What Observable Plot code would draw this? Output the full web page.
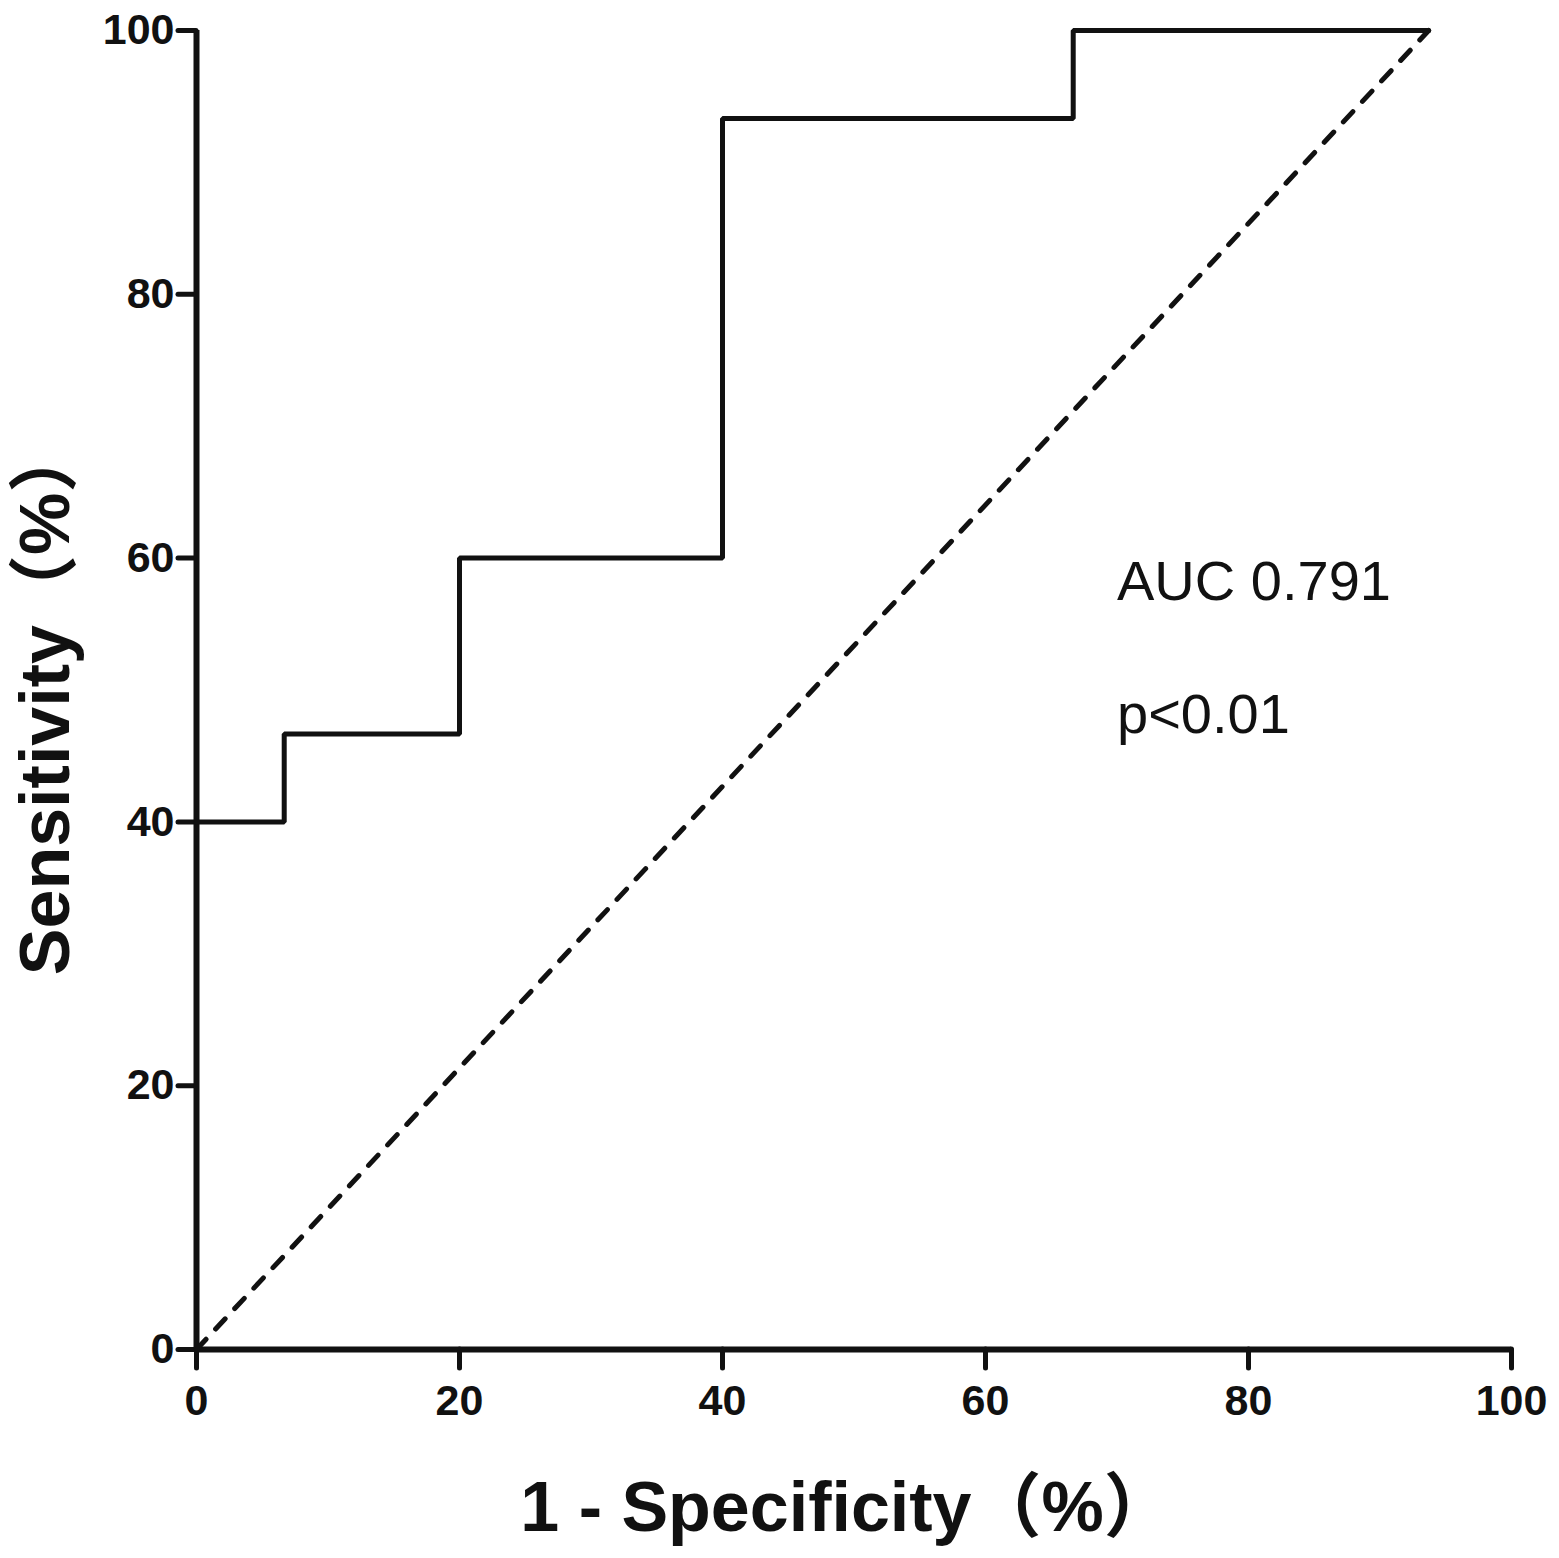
<!DOCTYPE html>
<html>
<head>
<meta charset="utf-8">
<script src="https://cdn.jsdelivr.net/npm/d3@7"></script>
<script src="https://cdn.jsdelivr.net/npm/@observablehq/plot@0.6"></script>
<style>
  html, body { margin: 0; padding: 0; background: #fff; }
  #chart svg { display: block; }
</style>
</head>
<body>
<div id="chart"></div>
<script>
// ROC curve vertices (1 - specificity %, sensitivity %), drawn as step-after
const rocFpr = [0, 6.67, 20, 40, 66.67, 93.7];
const rocTpr = [40, 46.67, 60, 93.33, 100, 100];
// reference (chance) line
const refFpr = [0, 93.7];
const refTpr = [0, 100];
// ticks
const xTicks = [0, 20, 40, 60, 80, 100];
const yTicks = [0, 20, 40, 60, 80, 100];
// annotation texts
const annText = ["AUC 0.791", "p<0.01"];
const annFpr = [70, 70];
const annTpr = [58.2, 48.1];
// titles
const xTitle = "1 - Specificity\uFF08%\uFF09";
const yTitle = "Sensitivity\uFF08%\uFF09";

const roc = rocFpr.map((x, i) => ({x, y: rocTpr[i]}));
const ref = refFpr.map((x, i) => ({x, y: refTpr[i]}));
const ann = annText.map((t, i) => ({t, x: annFpr[i], y: annTpr[i]}));

const font = "'Liberation Sans', Arial, 'Noto Sans CJK SC', sans-serif";

const chart = Plot.plot({
  width: 1559,
  height: 1558,
  marginLeft: 196,
  marginRight: 48,
  marginTop: 30,
  marginBottom: 209,
  style: {background: "#fff", fontFamily: font, color: "#111"},
  x: {domain: [0, 100]},
  y: {domain: [0, 100]},
  marks: [
    Plot.axisX({ticks: xTicks, tickSize: 19, tickPadding: 16, fontSize: 43, fontWeight: "bold",
                strokeWidth: 5, strokeLinecap: "round", label: null, fill: "#111", stroke: "#111"}),
    Plot.axisY({ticks: yTicks, tickSize: 18, tickPadding: 4, fontSize: 43, fontWeight: "bold",
                strokeWidth: 5, strokeLinecap: "round", label: null, fill: "#111", stroke: "#111"}),
    Plot.ruleX([0], {stroke: "#111", strokeWidth: 6}),
    Plot.ruleY([0], {stroke: "#111", strokeWidth: 6}),
    Plot.line(ref, {x: "x", y: "y", stroke: "#111", strokeWidth: 5,
                    strokeDasharray: "14,14", strokeLinecap: "round"}),
    Plot.line(roc, {x: "x", y: "y", curve: "step-after", stroke: "#111", strokeWidth: 5,
                    strokeLinecap: "round", strokeLinejoin: "miter"}),
    Plot.text(ann, {x: "x", y: "y", text: "t", textAnchor: "start", lineAnchor: "middle",
                    fontSize: 56, fill: "#111"}),
    Plot.text([xTitle], {frameAnchor: "bottom", textAnchor: "middle", dy: 159, dx: -7, lineAnchor: "middle",
                         fontSize: 70, fontWeight: "bold", fill: "#111"}),
    Plot.text([yTitle], {frameAnchor: "left", textAnchor: "middle", dx: -150, dy: 9, rotate: -90, lineAnchor: "middle",
                         fontSize: 70, fontWeight: "bold", fill: "#111"})
  ]
});
document.getElementById("chart").appendChild(chart);
</script>
</body>
</html>
